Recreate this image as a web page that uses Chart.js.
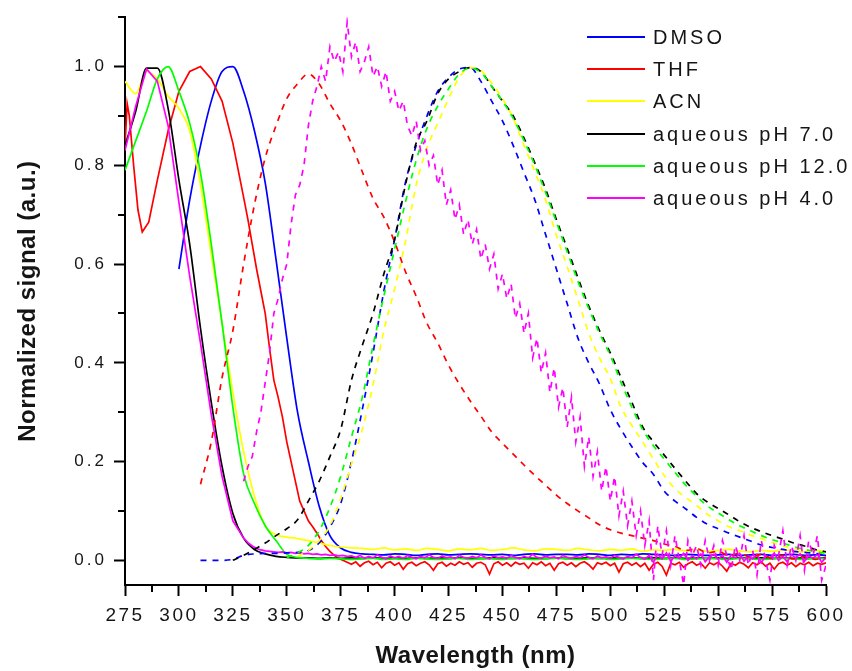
<!DOCTYPE html>
<html>
<head>
<meta charset="utf-8">
<script src="https://cdn.jsdelivr.net/npm/chart.js@4.4.1/dist/chart.umd.min.js"></script>
<style>
html,body{margin:0;padding:0;background:#ffffff;}
#wrap{width:852px;height:671px;position:relative;}
canvas{display:block;}
</style>
</head>
<body>
<div id="wrap"><canvas id="c" width="852" height="671"></canvas></div>
<script>
// ---------- categories / tick values ----------
const seriesLabels = ['DMSO', 'THF', 'ACN', 'aqueous pH 7.0', 'aqueous pH 12.0', 'aqueous pH 4.0'];
const xTicks = [275, 300, 325, 350, 375, 400, 425, 450, 475, 500, 525, 550, 575, 600];
const xMinorTicks = [287.5, 312.5, 337.5, 362.5, 387.5, 412.5, 437.5, 462.5, 487.5, 512.5, 537.5, 562.5, 587.5];
const yTicks = [0.0, 0.2, 0.4, 0.6, 0.8, 1.0];
const yMinorTicks = [0.1, 0.3, 0.5, 0.7, 0.9, 1.1];

// wavelength grids (nm)
const wl5 = [275,280,285,290,295,
             300,305,310,315,320,
             325,330,335,340,345,
             350,355,360,365,370,
             375,380,385,390,395,
             400,405,410,415,420,
             425,430,435,440,445,
             450,455,460,465,470,
             475,480,485,490,495,
             500,505,510,515,520,
             525,530,535,540,545,
             550,555,560,565,570,
             575,580,585,590,595,
             600];
const wl2 = [330,332,334,336,338,340,342,344,346,348,
             350,352,354,356,358,360,362,364,366,368,
             370,372,374,376,378,380,382,384,386,388,
             390,392,394,396,398,400,402,404,406,408,
             410,412,414,416,418,420,422,424,426,428,
             430,432,434,436,438,440,442,444,446,448,
             450,452,454,456,458,460,462,464,466,468,
             470,472,474,476,478,480,482,484,486,488,
             490,492,494,496,498,500,502,504,506,508,
             510,512,514,516,518,520,522,524,526,528,
             530,532,534,536,538,540,542,544,546,548,
             550,552,554,556,558,560,562,564,566,568,
             570,572,574,576,578,580,582,584,586,588,
             590,592,594,596,598,600];

// ---------- absorption (solid) ----------
const dmsoAbs = [null,null,null,null,null,
                 0.59,0.73,0.84,0.93,0.99,
                 1.0,0.95,0.87,0.765,0.61,
                 0.45,0.30,0.20,0.11,0.05,
                 0.025,0.016,0.013,0.012,0.011,
                 0.013,0.012,0.010,0.012,0.013,
                 0.011,0.012,0.013,0.012,0.011,
                 0.012,0.010,0.012,0.013,0.011,
                 0.012,0.012,0.011,0.013,0.012,
                 0.010,0.012,0.011,0.013,0.012,
                 0.011,0.010,0.012,0.011,0.010,
                 0.011,0.012,0.010,0.011,0.012,
                 0.010,0.011,0.012,0.010,0.011,
                 0.010];
const thfAbsHeadX = [275,276,277,279,281,283,286,290,295,300,305,310,315,320,325];
const thfAbsHeadY = [0.84,0.925,0.90,0.80,0.71,0.665,0.685,0.77,0.87,0.95,0.99,1.0,0.975,0.93,0.845];
const thfAbsTail = [0.735,0.69,0.64,0.59,0.545,0.50,0.43,0.365,0.33,0.29,
                    0.24,0.20,0.16,0.12,0.10,0.08,0.068,0.055,0.04,0.028,
                    0.018,0.01,0.004,0.0,-0.004,-0.008,-0.003,-0.012,-0.005,-0.002,
                    -0.009,-0.004,-0.015,-0.006,-0.003,-0.01,-0.005,-0.018,-0.007,-0.004,
                    -0.011,-0.006,-0.003,-0.009,-0.02,-0.007,-0.004,-0.012,-0.006,-0.01,
                    -0.003,-0.008,-0.005,-0.014,-0.006,-0.004,-0.009,-0.028,-0.007,-0.003,
                    -0.01,-0.005,-0.012,-0.004,-0.008,-0.006,-0.016,-0.005,-0.009,-0.003,
                    -0.011,-0.006,-0.02,-0.007,-0.004,-0.01,-0.005,-0.013,-0.006,-0.003,
                    -0.009,-0.018,-0.005,-0.008,-0.004,-0.011,-0.006,-0.024,-0.007,-0.004,
                    -0.01,-0.005,-0.013,-0.006,-0.02,-0.008,-0.004,-0.012,-0.03,-0.006,
                    -0.009,-0.004,-0.014,-0.007,-0.003,-0.01,-0.006,-0.016,-0.005,-0.009,
                    -0.004,-0.012,-0.022,-0.006,-0.01,-0.004,-0.008,-0.015,-0.005,-0.009,
                    -0.003,-0.012,-0.006,-0.018,-0.007,-0.004,-0.01,-0.005,-0.013,-0.006,
                    -0.009,-0.004,-0.011,-0.006,-0.008,-0.005];
const acnAbs = [0.97,0.945,0.99,0.975,0.94,
                0.915,0.87,0.76,0.62,0.48,
                0.34,0.22,0.13,0.07,0.052,
                0.047,0.044,0.04,0.035,0.03,
                0.027,0.025,0.024,0.022,0.025,
                0.021,0.023,0.020,0.024,0.022,
                0.019,0.023,0.021,0.024,0.020,
                0.022,0.025,0.021,0.019,0.023,
                0.022,0.020,0.024,0.021,0.019,
                0.022,0.020,0.023,0.018,0.021,
                0.020,0.022,0.019,0.021,0.018,
                0.020,0.022,0.019,0.017,0.020,
                0.018,0.021,0.019,0.017,0.020,
                0.018];
const ph7Abs = [0.84,0.91,0.997,0.997,0.915,
                0.77,0.64,0.47,0.32,0.19,
                0.095,0.045,0.022,0.013,0.008,
                0.006,0.005,0.005,0.004,0.005,
                0.004,0.005,0.004,0.005,0.004,
                0.005,0.004,0.005,0.004,0.005,
                0.004,0.005,0.004,0.004,0.005,
                0.005,0.004,0.005,0.004,0.004,
                0.005,0.004,0.004,0.005,0.004,
                0.005,0.004,0.005,0.004,0.005,
                0.004,0.005,0.004,0.005,0.004,
                0.005,0.004,0.005,0.004,0.005,
                0.004,0.005,0.004,0.005,0.004,
                0.005];
const ph12Abs = [0.79,0.85,0.91,0.975,1.0,
                 0.95,0.885,0.785,0.64,0.48,
                 0.31,0.175,0.115,0.07,0.04,
                 0.012,0.006,0.004,0.003,0.004,
                 0.003,0.002,0.003,0.004,0.002,
                 0.003,0.002,0.004,0.003,0.002,
                 0.003,0.004,0.002,0.003,0.003,
                 0.002,0.004,0.003,0.002,0.003,
                 0.004,0.003,0.002,0.003,0.004,
                 0.002,0.003,0.004,0.003,0.002,
                 0.003,0.004,0.002,0.003,0.004,
                 0.003,0.002,0.004,0.003,0.002,
                 0.003,0.004,0.003,0.002,0.004,
                 0.003];
const ph4AbsHead = [0.83,0.92,0.995,0.97,0.88,0.725,0.575,0.44,0.295,0.17,0.08];
const ph4AbsTail = [0.045,0.036,0.029,0.024,0.021,0.019,0.018,0.017,0.016,0.017,
                    0.015,0.016,0.014,0.015,0.013,0.014,0.012,0.013,0.011,0.012,
                    0.010,0.011,0.009,0.010,0.008,0.009,0.006,0.010,0.004,0.008,
                    0.005,0.011,0.006,0.003,0.009,0.005,0.008,0.004,0.010,0.006,
                    0.003,0.008,0.005,0.011,0.006,0.004,0.009,0.005,0.007,0.003,
                    0.010,0.006,0.004,0.008,0.005,0.011,0.006,0.003,0.009,0.005,
                    0.007,0.004,0.010,0.006,0.003,0.008,0.005,0.012,0.006,0.004,
                    0.009,0.005,0.007,0.003,0.010,0.006,0.004,0.008,0.005,0.011,
                    0.006,0.003,0.009,0.005,0.007,0.004,0.010,0.006,0.003,0.008,
                    0.005,0.012,0.006,0.002,0.010,-0.004,0.012,0.003,0.015,-0.002,
                    0.010,0.004,0.014,0.000,0.009,0.003,0.013,-0.003,0.008,0.012,
                    0.002,0.010,-0.004,0.011,0.005,0.014,-0.002,0.009,0.003,0.012,
                    -0.005,0.010,0.004,0.015,0.000,0.008,-0.003,0.011,0.005,0.013,
                    -0.002,0.009,0.004,0.012,-0.004,0.006];

// ---------- emission (dashed) ----------
const dmsoEm = [null,null,null,null,null,
                null,null,0.0,0.0,0.0,
                0.002,0.010,0.013,0.014,0.014,
                0.015,0.016,0.02,0.035,0.067,
                0.115,0.20,0.305,0.42,0.545,
                0.65,0.765,0.84,0.90,0.95,
                0.978,0.995,0.998,0.97,0.93,
                0.89,0.84,0.785,0.73,0.66,
                0.59,0.52,0.45,0.40,0.357,
                0.305,0.265,0.23,0.198,0.174,
                0.14,0.12,0.104,0.087,0.073,
                0.064,0.055,0.047,0.039,0.031,
                0.026,0.022,0.018,0.016,0.014,
                0.012];
const thfEm = [null,null,null,null,null,
               null,null,0.154,0.24,0.37,
               0.465,0.60,0.72,0.815,0.88,
               0.935,0.965,0.985,0.965,0.925,
               0.89,0.843,0.787,0.733,0.695,
               0.645,0.585,0.535,0.48,0.44,
               0.395,0.357,0.323,0.292,0.26,
               0.237,0.215,0.193,0.172,0.152,
               0.132,0.115,0.10,0.086,0.072,
               0.062,0.055,0.05,0.045,0.04,
               0.033,0.028,0.02,0.024,0.015,
               0.018,0.01,0.014,0.006,0.012,
               0.004,0.01,0.003,0.008,0.002,
               0.006];
const acnEm = [null,null,null,null,null,
               null,null,null,null,null,
               null,null,null,null,null,
               null,0.008,0.02,0.04,0.07,
               0.125,0.195,0.265,0.355,0.465,
               0.55,0.645,0.76,0.835,0.885,
               0.935,0.978,0.998,0.992,0.967,
               0.935,0.895,0.84,0.787,0.73,
               0.658,0.595,0.528,0.46,0.41,
               0.368,0.31,0.273,0.24,0.205,
               0.172,0.145,0.127,0.111,0.093,
               0.08,0.068,0.06,0.051,0.044,
               0.036,0.029,0.024,0.02,0.017,
               0.014];
const ph7Em = [null,null,null,null,null,
               null,null,null,null,null,
               0.0,0.01,0.022,0.035,0.05,
               0.064,0.082,0.12,0.16,0.21,
               0.265,0.365,0.435,0.50,0.58,
               0.65,0.76,0.845,0.89,0.945,
               0.975,0.99,0.998,0.99,0.96,
               0.93,0.90,0.855,0.805,0.752,
               0.69,0.632,0.572,0.515,0.465,
               0.42,0.37,0.32,0.27,0.24,
               0.213,0.186,0.16,0.135,0.118,
               0.105,0.092,0.078,0.067,0.058,
               0.05,0.043,0.035,0.029,0.022,
               0.017];
const ph12Em = [null,null,null,null,null,
                null,null,null,null,null,
                null,null,null,null,null,
                0.005,0.015,0.03,0.06,0.107,
                0.17,0.25,0.33,0.435,0.535,
                0.63,0.725,0.81,0.875,0.92,
                0.955,0.985,0.997,0.988,0.96,
                0.93,0.895,0.85,0.80,0.745,
                0.685,0.625,0.565,0.51,0.46,
                0.415,0.36,0.31,0.265,0.232,
                0.205,0.178,0.152,0.13,0.11,
                0.096,0.082,0.07,0.06,0.05,
                0.042,0.035,0.028,0.022,0.018,
                0.014];
const ph4Em = [0.16,0.19,0.21,0.26,0.30,0.36,0.42,0.50,0.53,0.57,
               0.60,0.68,0.74,0.76,0.80,0.88,0.93,0.96,1.00,0.97,
               1.04,1.01,1.03,0.99,1.09,1.02,1.05,0.99,1.01,1.04,
               0.98,1.00,0.96,0.99,0.93,0.95,0.91,0.93,0.88,0.86,
               0.89,0.83,0.85,0.80,0.82,0.76,0.79,0.72,0.75,0.69,
               0.72,0.66,0.69,0.64,0.67,0.61,0.64,0.59,0.62,0.55,
               0.58,0.53,0.56,0.49,0.52,0.46,0.50,0.41,0.45,0.38,
               0.42,0.34,0.39,0.31,0.35,0.27,0.33,0.24,0.29,0.19,
               0.25,0.17,0.22,0.14,0.19,0.12,0.17,0.09,0.14,0.07,
               0.12,0.05,0.10,0.03,0.08,-0.04,0.07,0.01,0.06,-0.01,
               0.05,0.00,-0.05,0.04,0.01,0.03,-0.01,0.04,0.00,0.03,
               -0.01,0.04,0.01,-0.02,0.03,0.00,0.05,-0.01,0.02,-0.03,
               0.04,0.00,-0.04,0.03,0.01,0.06,-0.01,0.03,0.00,0.05,
               -0.02,0.04,0.01,0.05,-0.04,-0.01];

// ---------- styling ----------
const seriesColors = ['#0000ff', '#ff0000', '#ffff00', '#000000', '#00ff00', '#ff00ff'];
const FONT = '"Liberation Sans", Arial, Helvetica, sans-serif';
const TEXT = '#151515';

// per-element letter spacing (canvas letterSpacing) for axis labels and titles
(function () {
  const S = Chart.Scale && Chart.Scale.prototype;
  if (!S) return;
  const wrap = (name, fn) => {
    const orig = S[name];
    if (typeof orig !== 'function') return;
    S[name] = function (...args) {
      const c = this.ctx;
      const has = c && ('letterSpacing' in c);
      const prev = has ? c.letterSpacing : null;
      if (has) c.letterSpacing = fn(this);
      const r = orig.apply(this, args);
      if (has) c.letterSpacing = prev;
      return r;
    };
  };
  wrap('drawLabels', (s) => s.axis === 'x' ? '2.5px' : '3px');
  wrap('drawTitle', () => '0.5px');
})();

function pts(xs, ys) {
  const out = [];
  for (let i = 0; i < xs.length; i++) {
    if (ys[i] !== null && ys[i] !== undefined) out.push({x: xs[i], y: ys[i]});
  }
  return out;
}

const solidSeries = [
  pts(wl5, dmsoAbs),
  pts(thfAbsHeadX, thfAbsHeadY).concat(pts(wl2, thfAbsTail)),
  pts(wl5, acnAbs),
  pts(wl5, ph7Abs),
  pts(wl5, ph12Abs),
  pts(wl5.slice(0, 11), ph4AbsHead).concat(pts(wl2, ph4AbsTail))
];
const dashedSeries = [
  pts(wl5, dmsoEm),
  pts(wl5, thfEm),
  pts(wl5, acnEm),
  pts(wl5, ph7Em),
  pts(wl5, ph12Em),
  pts(wl2, ph4Em)
];

const datasets = [];
solidSeries.forEach((d, i) => {
  datasets.push({
    label: seriesLabels[i] + ' (abs)',
    data: d,
    borderColor: seriesColors[i],
    borderWidth: 1.7,
    pointRadius: 0,
    fill: false,
    tension: 0,
    cubicInterpolationMode: (i === 1 || i === 5) ? 'default' : 'monotone'
  });
});
dashedSeries.forEach((d, i) => {
  datasets.push({
    label: seriesLabels[i] + ' (em)',
    data: d,
    borderColor: seriesColors[i],
    borderWidth: 1.7,
    borderDash: [6, 6],
    pointRadius: 0,
    fill: false,
    tension: 0,
    cubicInterpolationMode: (i === 5) ? 'default' : 'monotone'
  });
});
datasets.forEach((ds, i) => { ds.order = datasets.length - i; });

const decor = {
  id: 'decor',
  afterDraw(chart) {
    const ctx = chart.ctx;
    const xs = chart.scales.x, ys = chart.scales.y;
    ctx.save();
    // minor ticks
    ctx.strokeStyle = '#000';
    ctx.lineWidth = 2;
    ctx.beginPath();
    xMinorTicks.forEach(v => {
      const px = Math.round(xs.getPixelForValue(v));
      ctx.moveTo(px, xs.top);
      ctx.lineTo(px, xs.top + 7);
    });
    yMinorTicks.forEach(v => {
      const py = Math.round(ys.getPixelForValue(v));
      ctx.moveTo(ys.right, py);
      ctx.lineTo(ys.right - 7, py);
    });
    ctx.stroke();
    // legend
    const lx0 = 587, lx1 = 645, tx = 653, y0 = 37, dy = 32.2;
    ctx.font = '20px ' + FONT;
    if ('letterSpacing' in ctx) ctx.letterSpacing = '3px';
    ctx.textAlign = 'left';
    ctx.textBaseline = 'middle';
    seriesLabels.forEach((lab, i) => {
      const y = Math.round(y0 + i * dy);
      ctx.strokeStyle = seriesColors[i];
      ctx.lineWidth = 2;
      ctx.setLineDash([]);
      ctx.beginPath();
      ctx.moveTo(lx0, y);
      ctx.lineTo(lx1, y);
      ctx.stroke();
      ctx.fillStyle = TEXT;
      ctx.fillText(lab, tx, y + 1);
    });
    ctx.restore();
  }
};

new Chart(document.getElementById('c'), {
  type: 'line',
  data: { datasets },
  plugins: [decor],
  options: {
    responsive: false,
    devicePixelRatio: 1,
    animation: false,
    events: [],
    layout: { padding: { top: 14, right: 26, left: 0, bottom: 0 } },
    plugins: { legend: { display: false }, tooltip: { enabled: false } },
    scales: {
      x: {
        type: 'linear',
        min: 275,
        max: 600,
        afterBuildTicks: (s) => { s.ticks = xTicks.map(v => ({ value: v })); },
        afterFit: (s) => { s.height = 86; },
        ticks: {
          autoSkip: false,
          maxRotation: 0,
          color: TEXT,
          padding: 8,
          font: { family: FONT, size: 19 },
          callback: (v) => String(v)
        },
        grid: { display: true, drawOnChartArea: false, drawTicks: true, tickLength: 11, tickWidth: 2, tickColor: '#000' },
        border: { display: true, color: '#000', width: 2 },
        title: {
          display: true,
          text: 'Wavelength (nm)',
          color: TEXT,
          font: { family: FONT, size: 24, weight: 'bold' },
          padding: { top: 0, bottom: 0 }
        }
      },
      y: {
        type: 'linear',
        min: -0.05,
        max: 1.1,
        afterBuildTicks: (s) => { s.ticks = yTicks.map(v => ({ value: v })); },
        afterFit: (s) => { s.width = 125; },
        ticks: {
          autoSkip: false,
          color: TEXT,
          padding: 7,
          font: { family: FONT, size: 17 },
          callback: (v) => Number(v).toFixed(1)
        },
        grid: { display: true, drawOnChartArea: false, drawTicks: true, tickLength: 11, tickWidth: 2, tickColor: '#000' },
        border: { display: true, color: '#000', width: 2 },
        title: {
          display: true,
          text: 'Normalized signal (a.u.)',
          color: TEXT,
          font: { family: FONT, size: 24, weight: 'bold' },
          padding: { top: 14, bottom: 0 }
        }
      }
    }
  }
});
</script>
</body>
</html>
